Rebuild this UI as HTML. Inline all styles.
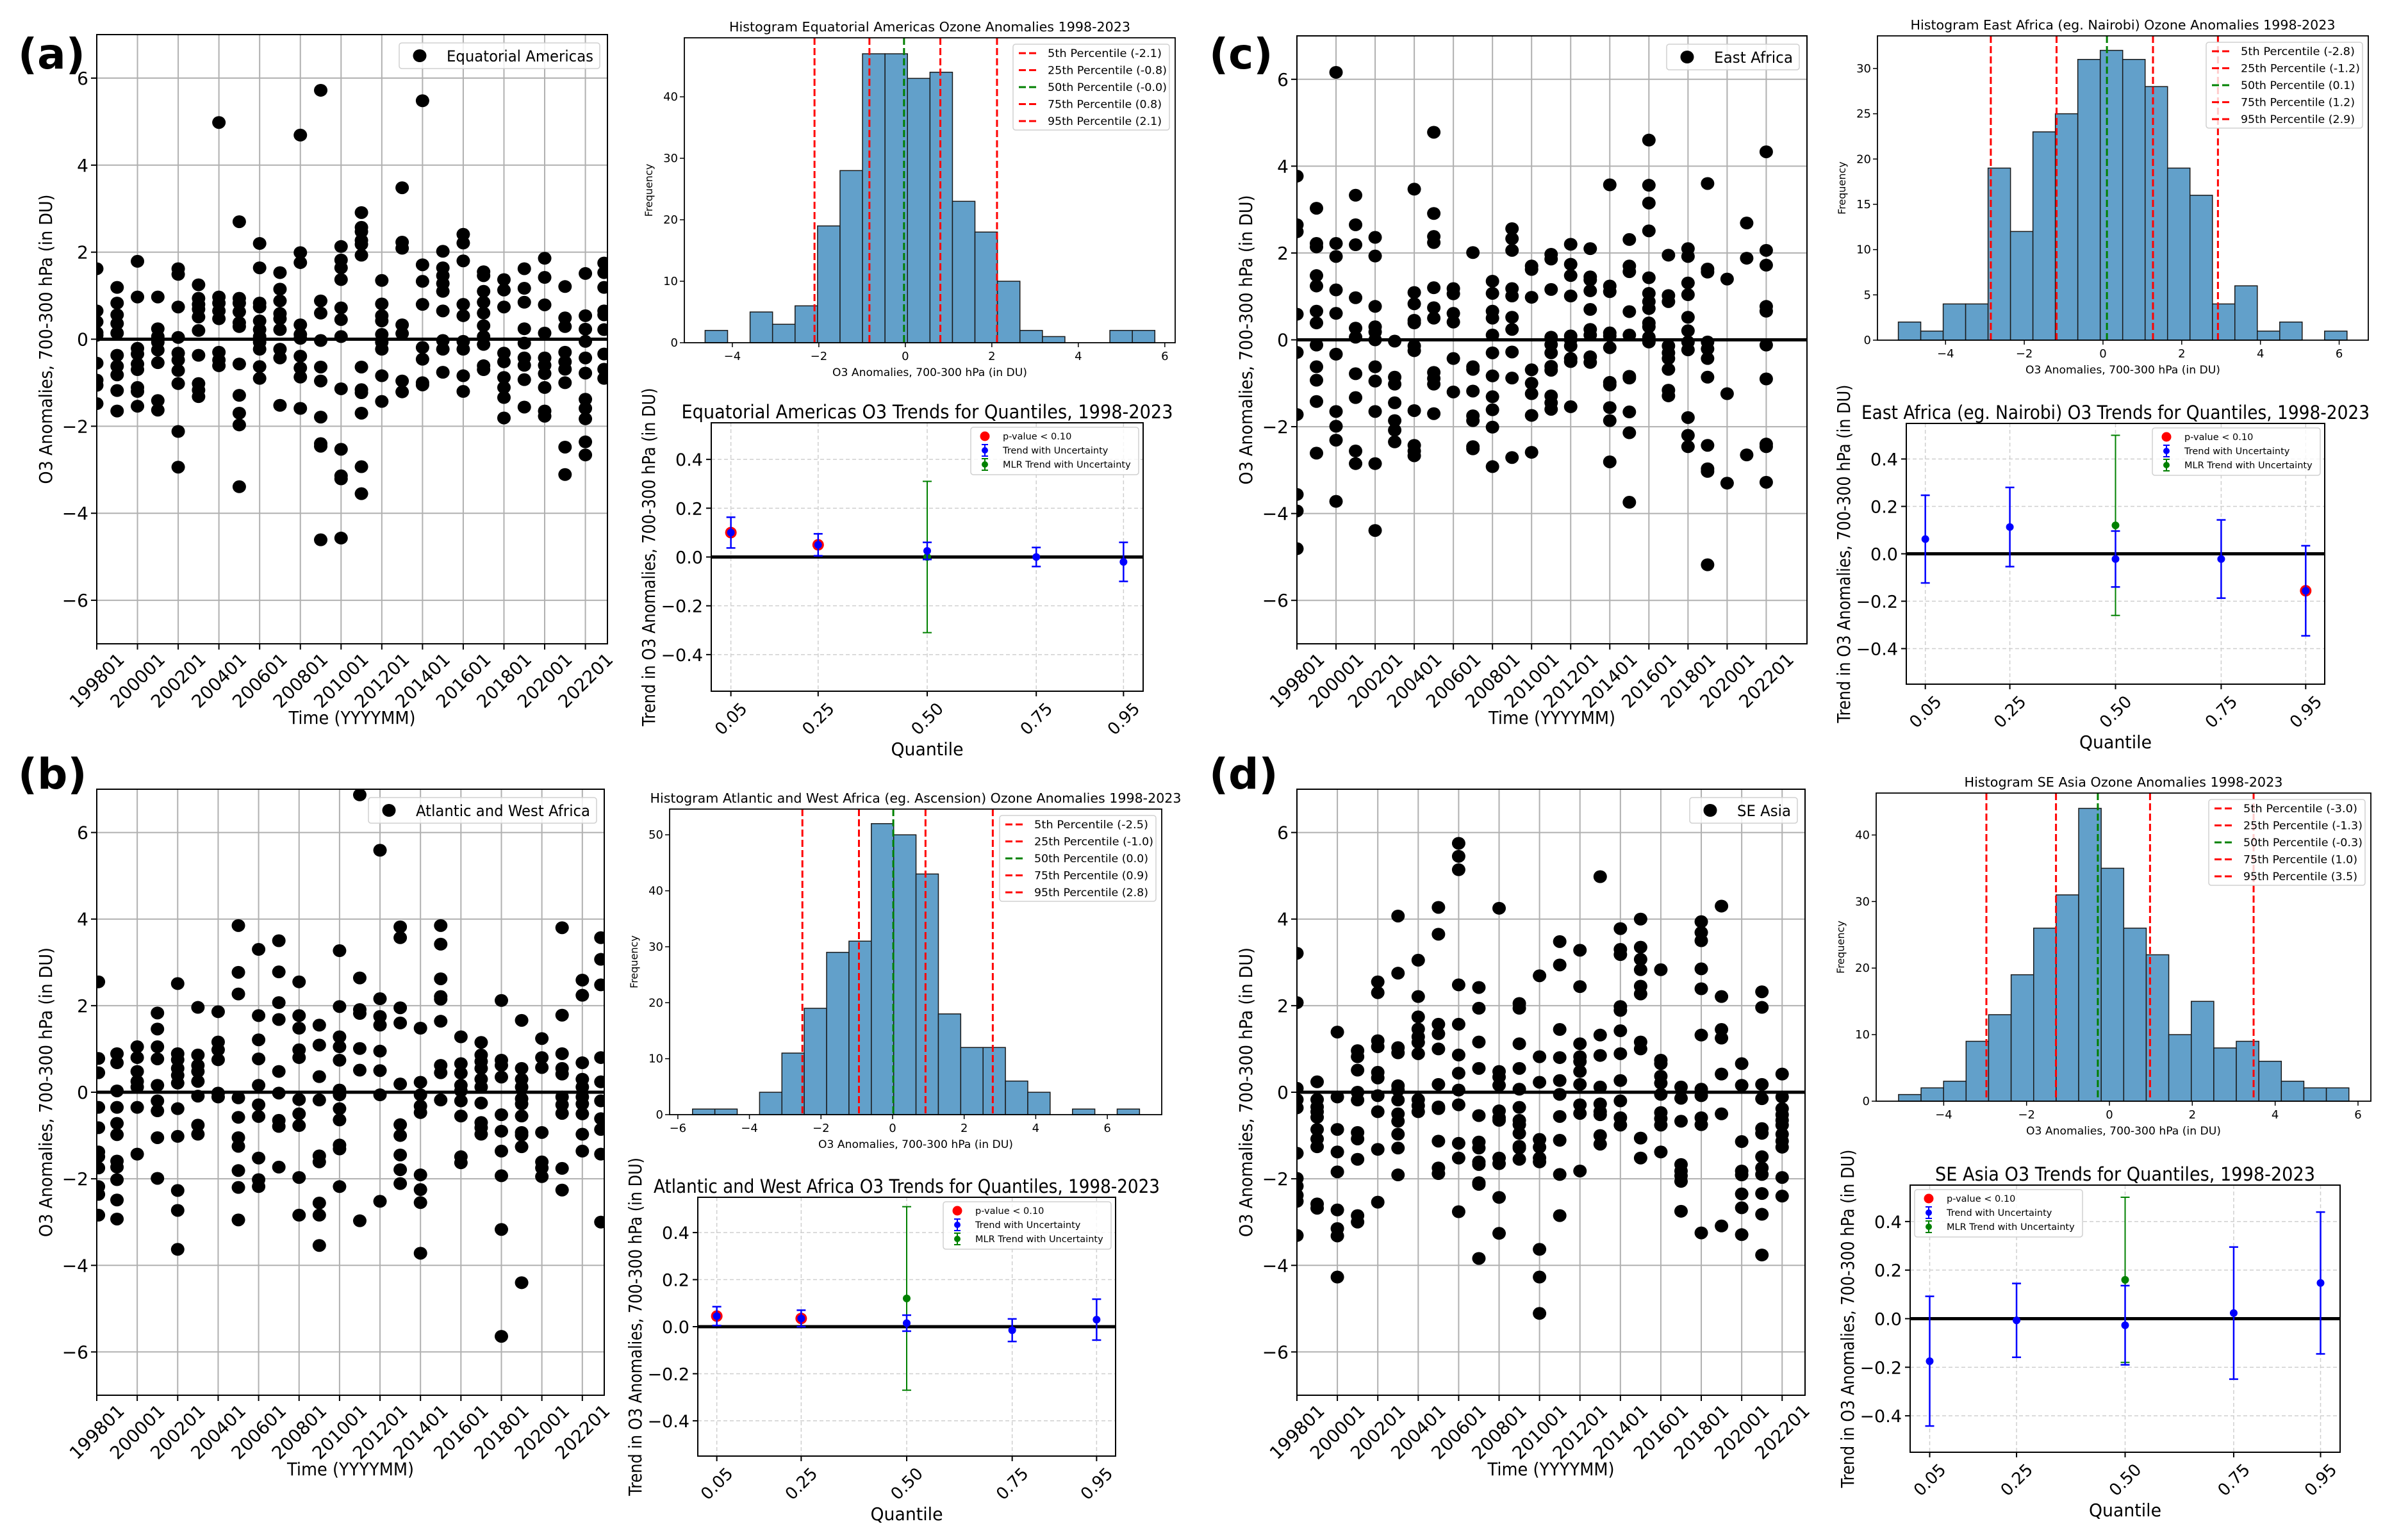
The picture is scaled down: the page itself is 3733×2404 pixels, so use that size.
<!DOCTYPE html>
<html><head><meta charset="utf-8"><title>O3 anomaly figure</title>
<style>html,body{margin:0;padding:0;background:#fff}svg{display:block}text{font-family:"DejaVu Sans","Liberation Sans",sans-serif}</style>
</head><body>
<svg id="fig" xmlns="http://www.w3.org/2000/svg" width="3733" height="2404" viewBox="0 0 3733 2404">
<rect x="0" y="0" width="3733" height="2404" fill="#fff"/>
<g id="panelA"></g>
<g id="panelB"></g>
<g id="panelC"></g>
<g id="panelD"></g>
</svg>
<script>
// ---------- DATA ----------
const monthsA=[0,12,24,36,48,60,72,84,96,108,120,132,144,156,168,180,192,204,216,228,240,252,264,276,288,299];
const anomA=[
[1.62,0.65,0.40,0.15,0.09,-0.55,-0.94,-1.06,-1.48],
[1.19,0.83,0.56,0.36,0.14,-0.37,-0.62,-0.82,-1.18,-1.65],
[1.79,0.97,-0.21,-0.34,-0.57,-0.70,-1.11,-1.20,-1.54],
[0.97,0.24,0.06,-0.07,-0.25,-0.54,-1.41,-1.63],
[1.62,1.49,0.74,0.04,-0.32,-0.48,-0.72,-1.02,-2.12,-2.94],
[1.25,0.94,0.80,0.69,0.51,0.20,-0.37,-1.02,-1.17,-1.32],
[4.98,0.97,0.83,0.65,0.47,-0.30,-0.48,-0.61],
[2.70,0.94,0.83,0.63,0.38,0.29,-0.57,-1.29,-1.70,-1.97,-3.39],
[2.20,1.64,0.83,0.74,0.42,0.22,0.06,-0.07,-0.23,-0.63,-0.90],
[1.53,1.15,0.88,0.59,0.47,0.22,-0.23,-0.43,-1.52],
[4.69,1.99,1.76,0.33,0.11,0.02,-0.39,-0.66,-0.87,-1.59],
[5.72,0.88,0.60,-0.03,-0.64,-0.96,-1.79,-2.40,-2.46,-4.61],
[2.13,1.82,1.64,1.37,0.72,0.45,0.06,-1.14,-2.53,-3.14,-3.21,-4.57],
[2.91,2.57,2.47,2.27,2.18,1.93,-0.64,-1.16,-1.23,-1.70,-2.93,-3.55],
[1.35,0.81,0.54,0.42,0.11,-0.07,-0.23,-0.84,-1.43],
[3.48,2.23,2.09,0.33,0.13,-0.96,-1.21],
[5.48,1.71,1.33,0.80,-0.19,-0.46,-1.00,-1.05],
[2.02,1.64,1.46,1.28,1.10,0.65,-0.03,-0.23,-0.76],
[2.41,2.21,1.80,0.80,0.54,-0.05,-0.23,-0.84,-1.20],
[1.55,1.46,1.10,0.85,0.60,0.31,0.06,-0.12,-0.61,-0.70],
[1.37,1.13,0.74,-0.32,-0.52,-0.88,-1.11,-1.34,-1.81],
[1.62,1.17,0.85,0.24,-0.09,-0.43,-0.60,-0.93,-1.56],
[1.86,1.42,0.79,0.14,-0.43,-0.60,-0.79,-1.11,-1.65,-1.77],
[1.21,0.49,0.29,-0.30,-0.52,-0.69,-1.00,-2.48,-3.11],
[1.51,0.54,0.23,-0.05,-0.43,-0.78,-1.38,-1.59,-1.83,-2.36,-2.66],
[1.75,1.53,1.19,0.65,0.56,0.22,-0.34,-0.69,-0.90]];
const monthsB=[1,12,24,36,48,60,72,84,96,108,120,132,144,156,168,180,192,204,216,228,240,252,264,276,288,299];
const anomB=[
[2.55,0.78,0.45,-0.35,-0.82,-1.38,-1.49,-1.75,-2.18,-2.36,-2.84],
[0.89,0.68,0.03,-0.35,-0.72,-0.98,-1.59,-1.73,-2.02,-2.49,-2.93],
[1.05,0.80,0.48,0.25,0.12,-0.35,-1.43],
[1.83,1.46,1.05,0.77,0.16,-0.20,-0.43,-1.05,-1.99],
[2.51,0.89,0.75,0.55,0.39,0.21,-0.38,-1.02,-2.27,-2.73,-3.63],
[1.96,0.86,0.62,0.48,0.25,-0.09,-0.76,-0.97],
[1.86,1.16,0.98,0.75,-0.02,-0.11],
[3.85,2.77,2.27,-0.13,-0.58,-1.05,-1.25,-1.81,-2.20,-2.95],
[3.30,1.77,1.21,0.77,0.16,-0.29,-0.56,-1.52,-2.02,-2.18],
[3.50,2.78,2.07,1.68,0.48,-0.02,-0.65,-0.79,-1.73],
[2.55,1.77,1.48,0.98,0.80,-0.17,-0.50,-0.77,-1.97,-2.84],
[1.55,1.09,0.36,-0.18,-1.47,-1.61,-2.56,-2.84,-3.54],
[3.27,1.98,1.28,1.05,0.74,0.05,-0.06,-0.38,-0.64,-1.22,-1.31,-2.18],
[6.87,2.64,1.91,1.82,1.01,0.51,-2.97],
[5.59,2.16,1.75,1.55,0.95,0.50,-0.06,-2.52],
[3.82,3.57,1.95,1.60,0.19,-0.75,-1.00,-1.45,-1.79,-2.11],
[1.48,0.23,-0.06,-0.32,-0.47,-1.91,-2.25,-2.55,-3.72],
[3.85,3.42,2.62,2.21,2.15,1.64,0.62,0.45,-0.18],
[1.28,0.66,0.44,0.16,0.03,-0.20,-0.55,-1.49,-1.63],
[1.15,0.86,0.71,0.55,0.30,0.12,-0.25,-0.70,-0.82,-0.97],
[2.12,0.74,0.62,0.35,-0.52,-0.90,-1.36,-1.93,-3.17,-5.64],
[1.66,0.55,0.30,0.12,-0.15,-0.27,-0.55,-0.93,-0.99,-1.26,-4.40],
[1.24,0.80,0.57,-0.93,-1.61,-1.75,-1.95],
[3.80,1.78,0.89,0.55,0.42,-0.11,-0.29,-0.49,-1.76,-2.26],
[2.59,2.24,0.68,0.30,0.12,-0.11,-0.27,-0.50,-0.97,-1.36],
[3.57,3.07,2.48,0.80,0.24,-0.20,-0.61,-0.86,-1.43,-3.00]];
const monthsC=[0,12,24,36,48,60,72,84,96,108,120,132,144,156,168,180,192,204,216,228,240,252,264,276,288];
const anomC=[
[3.77,2.65,2.49,0.59,-0.29,-1.72,-3.56,-3.94,-4.81],
[3.03,2.22,2.14,1.48,1.24,0.66,0.39,-0.12,-0.62,-0.93,-1.42,-2.61],
[6.16,2.22,1.92,1.15,0.61,-0.33,-1.65,-1.99,-2.31,-3.72],
[3.33,2.65,2.19,0.97,0.27,0.06,-0.78,-1.33,-2.56,-2.85],
[2.36,1.93,0.77,0.30,0.18,0.00,-0.62,-0.95,-1.65,-2.85,-4.39],
[-0.03,-0.86,-1.02,-1.45,-1.86,-2.08,-2.35],
[3.47,1.09,0.83,0.45,0.39,-0.14,-0.25,-1.63,-2.43,-2.56,-2.67],
[4.78,2.91,2.38,2.24,1.20,0.74,0.50,-0.75,-0.89,-1.02,-1.70],
[1.18,1.06,0.61,0.41,-0.43,-1.20],
[2.01,-0.62,-0.68,-1.18,-1.75,-1.86,-2.46,-2.51],
[1.35,1.07,0.66,0.50,0.11,-0.30,-0.83,-1.31,-1.61,-2.01,-2.92],
[2.56,2.33,2.06,1.18,1.01,0.52,0.24,-0.28,-0.88,-2.71],
[1.70,1.62,0.98,-0.69,-1.00,-1.24,-1.74,-2.59],
[1.97,1.86,1.16,0.06,-0.11,-0.30,-0.61,-0.70,-1.29,-1.45,-1.60],
[2.20,1.74,1.48,1.01,0.09,0.00,-0.14,-0.43,-0.50,-1.54],
[2.10,1.45,1.38,1.13,0.70,0.24,0.11,-0.39,-0.52],
[3.57,1.24,1.11,0.16,0.09,-0.18,-0.98,-1.04,-1.56,-1.86,-2.81],
[2.31,1.70,1.57,0.65,0.11,-0.84,-0.88,-1.66,-2.14,-3.74],
[4.60,3.56,3.15,2.51,1.43,1.07,0.88,0.72,0.39,0.30,0.06,-0.05],
[1.95,1.02,0.88,-0.14,-0.30,-0.43,-0.68,-1.16,-1.29],
[2.10,1.92,1.31,1.04,0.52,0.21,-0.05,-0.23,-1.79,-2.20,-2.46],
[3.60,1.63,1.56,-0.05,-0.21,-0.43,-0.86,-2.43,-2.97,-3.03,-5.18],
[1.40,-1.24,-3.30],
[2.69,1.88,-2.65],
[4.33,2.06,1.72,0.77,0.66,-0.12,-0.90,-2.40,-2.46,-3.28]];
const monthsD=[0,12,24,36,48,60,72,84,96,108,120,132,144,156,168,180,192,204,216,228,240,252,264,276,288];
const anomD=[
[3.21,2.07,0.09,-0.17,-0.36,-1.41,-1.99,-2.17,-2.38,-2.52,-3.31],
[0.24,-0.17,-0.34,-0.45,-0.58,-0.86,-1.08,-1.26,-2.58,-2.68],
[1.39,-0.11,-0.86,-1.38,-1.84,-2.72,-3.15,-3.32,-4.27],
[0.96,0.82,0.51,0.00,-0.18,-0.93,-1.08,-1.55,-2.85,-3.00],
[2.55,2.30,1.19,1.05,0.46,0.33,-0.08,-0.45,-1.32,-2.54],
[4.07,2.75,1.03,0.91,0.15,0.05,-0.18,-0.50,-0.67,-0.97,-1.29,-1.91],
[3.05,2.21,1.74,1.46,1.28,1.15,0.89,-0.17,-0.31,-0.45],
[4.27,3.65,1.57,1.35,1.00,0.18,-0.34,-0.38,-1.13,-1.75,-1.88],
[5.75,5.45,5.14,2.48,1.57,0.86,0.44,0.05,-0.29,-1.18,-1.52,-2.76],
[2.42,1.94,1.16,0.55,-0.54,-1.15,-1.29,-1.61,-1.67,-2.09,-2.13,-3.84],
[4.25,0.48,0.35,0.16,-0.43,-0.59,-0.65,-1.52,-1.65,-2.43,-3.26],
[2.05,1.94,1.12,0.55,0.07,-0.35,-0.65,-0.75,-0.95,-1.25,-1.29,-1.55],
[2.69,0.82,0.23,-1.09,-1.27,-1.52,-1.61,-3.63,-4.27,-5.11],
[3.48,2.94,1.45,0.80,0.27,-0.05,-0.56,-1.11,-1.90,-2.85],
[3.28,2.44,1.12,0.82,0.71,0.48,0.18,-0.29,-0.49,-1.82],
[4.98,1.32,0.85,0.12,-0.27,-0.45,-0.52,-1.00,-1.20],
[3.78,3.30,3.18,1.98,1.89,1.42,0.89,0.27,-0.20,-0.59,-0.76],
[4.00,3.35,3.07,2.83,2.45,2.27,1.16,1.00,-1.06,-1.52],
[2.83,0.74,0.66,0.37,0.21,-0.05,-0.47,-0.61,-0.76,-1.38],
[0.12,-0.14,-0.67,-1.67,-1.82,-1.93,-2.06,-2.75],
[3.94,3.69,3.50,2.85,2.39,1.32,0.07,-0.08,-0.59,-0.75,-3.25],
[4.30,2.21,1.45,1.25,0.42,-0.50,-3.09],
[0.66,0.16,-1.14,-1.82,-1.91,-2.35,-2.67,-3.29],
[2.32,1.96,0.18,-0.15,-0.84,-0.95,-1.49,-1.75,-1.90,-2.34,-2.82,-3.76],
[0.42,-0.11,-0.38,-0.52,-0.65,-0.76,-0.97,-1.13,-1.27,-1.97,-2.40]];
const timeTickMonths=[0,24,48,72,96,120,144,168,192,216,240,264,288];
const timeTickLabels=['199801','200001','200201','200401','200601','200801','201001','201201','201401','201601','201801','202001','202201'];
const anomTicks=[-6,-4,-2,0,2,4,6];

// histograms
const histStartA=-4.63, histWidthA=0.52;
const histCountsA=[2,0,5,3,6,19,28,47,47,43,44,23,18,10,2,1,0,0,2,2];
const pctA=[-2.10,-0.83,-0.03,0.81,2.12];
const pctLabelA=['-2.1','-0.8','-0.0','0.8','2.1'];
const histStartB=-5.59, histWidthB=0.6245;
const histCountsB=[1,1,0,4,11,19,29,31,52,50,43,18,12,12,6,4,0,1,0,1];
const pctB=[-2.52,-0.94,0.02,0.92,2.80];
const pctLabelB=['-2.5','-1.0','0.0','0.9','2.8'];
const histStartC=-5.2, histWidthC=0.57;
const histCountsC=[2,1,4,4,19,12,23,25,31,32,31,28,19,16,4,6,1,2,0,1];
const pctC=[-2.85,-1.18,0.10,1.27,2.92];
const pctLabelC=['-2.8','-1.2','0.1','1.2','2.9'];
const histStartD=-5.09, histWidthD=0.5435;
const histCountsD=[1,2,3,9,13,19,26,31,44,35,26,22,10,15,8,9,6,3,2,2];
const pctD=[-2.97,-1.29,-0.28,0.98,3.48];
const pctLabelD=['-3.0','-1.3','-0.3','1.0','3.5'];
const pctNames=['5th','25th','50th','75th','95th'];

// trends
const quantiles=[0.05,0.25,0.50,0.75,0.95];
const quantileLabels=['0.05','0.25','0.50','0.75','0.95'];
const trendTicks=[-0.4,-0.2,0.0,0.2,0.4];
const trendA=[0.10,0.05,0.025,0.0,-0.02];
const trendErrA=[0.063,0.045,0.035,0.039,0.08];
const sigA=[1,1,0,0,0];
const mlrA=0.0, mlrErrA=0.31;
const trendB=[0.045,0.035,0.015,-0.015,0.03];
const trendErrB=[0.04,0.035,0.034,0.048,0.087];
const sigB=[1,1,0,0,0];
const mlrB=0.12, mlrErrB=0.39;
const trendC=[0.062,0.113,-0.022,-0.022,-0.156];
const trendErrC=[0.185,0.167,0.118,0.165,0.19];
const sigC=[0,0,0,0,1];
const mlrC=0.12, mlrErrC=0.38;
const trendD=[-0.175,-0.007,-0.027,0.023,0.147];
const trendErrD=[0.267,0.152,0.163,0.272,0.292];
const sigD=[0,0,0,0,0];
const mlrD=0.16, mlrErrD=0.34;

// ---------- DRAWING ----------
const NS='http://www.w3.org/2000/svg';
function mk(tag,attrs,parent){const e=document.createElementNS(NS,tag);for(const k in attrs)e.setAttribute(k,attrs[k]);parent.appendChild(e);return e;}
function txt(parent,x,y,s,size,anchor,extra){const t=mk('text',Object.assign({x:x,y:y,'font-size':size,'text-anchor':anchor||'start',fill:'#000'},extra||{}),parent);t.textContent=s;return t;}
const minus=s=>String(s).replace('-','\u2212');
let clipId=0;

function drawScatter(root,box,xmax,months,vals,legText,legTL,pname){
  const g=mk('g',{},root);
  
  
  const W=box.R-box.L,H=box.B-box.T;
  const xs=m=>box.L+m/xmax*W, ys=v=>box.T+(7-v)/14*H;
  timeTickMonths.forEach((m,i)=>{
    const l=mk('line',{x1:xs(m),x2:xs(m),y1:box.T,y2:box.B,stroke:'#b0b0b0','stroke-width':2},g);
    
    
    const tk=mk('line',{x1:xs(m),x2:xs(m),y1:box.B,y2:box.B+9,stroke:'#000','stroke-width':2},g);
    
    
    const cx=xs(m),cy=box.B+57;
    const t=txt(g,cx,cy+10,timeTickLabels[i],28,'middle',{transform:`rotate(-45 ${cx} ${cy})`});
    
    
  });
  anomTicks.forEach(v=>{
    const l=mk('line',{x1:box.L,x2:box.R,y1:ys(v),y2:ys(v),stroke:'#b0b0b0','stroke-width':2},g);
    
    
    const tk=mk('line',{x1:box.L-9,x2:box.L,y1:ys(v),y2:ys(v),stroke:'#000','stroke-width':2},g);
    
    
    const t=txt(g,box.L-13,ys(v)+10,minus(v),28,'end');
    
    
  });
  const id='clip'+(clipId++);
  const cp=mk('clipPath',{id:id},g);
  mk('rect',{x:box.L,y:box.T,width:W,height:H},cp);
  const z=mk('line',{x1:box.L,x2:box.R,y1:ys(0),y2:ys(0),stroke:'#000','stroke-width':5},g);
  
  
  const pg=mk('g',{'clip-path':`url(#${id})`},g);
  
  
  months.forEach((m,i)=>{
    vals[i].forEach(v=>{
      const c=mk('ellipse',{cx:xs(m),cy:ys(v),rx:10.5,ry:10,fill:'#000'},pg);
      
      
    });
  });
  const fr=mk('rect',{x:box.L,y:box.T,width:W,height:H,fill:'none',stroke:'#000','stroke-width':2},g);
  
  
  const yl=txt(g,box.L-70,(box.T+box.B)/2,'O3 Anomalies, 700-300 hPa (in DU)',28,'middle',{transform:`rotate(-90 ${box.L-70} ${(box.T+box.B)/2})`,textLength:452,lengthAdjust:'spacingAndGlyphs'});
  
  
  const xl=txt(g,(box.L+box.R)/2,box.B+125,'Time (YYYYMM)',28,'middle',{textLength:198,lengthAdjust:'spacingAndGlyphs'});
  
  
  const lg=mk('g',{},g);
  
  
  const bw=legText.w+84, bx=box.R-12-bw, by=box.T+13;
  mk('rect',{x:bx,y:by,width:bw,height:40,rx:4,fill:'#fff','fill-opacity':0.8,stroke:'#d0d0d0','stroke-width':1.5},lg);
  const lm=mk('ellipse',{cx:bx+32,cy:by+20,rx:10.5,ry:10,fill:'#000'},lg);
  
  
  const lt=txt(lg,bx+74,by+29,legText.s,24,'start',{textLength:legText.w,lengthAdjust:'spacingAndGlyphs'});
  
  
  const pl=txt(root,legTL.x,legTL.y,legTL.s,66,'start',{'font-weight':'bold','font-family':'Liberation Sans, sans-serif'});
  
  
}

function drawHist(root,box,xr,ymax,start,width,counts,pcts,pctLabels,xticks,yticks,title,titleW,pname){
  const g=mk('g',{},root);
  
  
  const W=box.R-box.L,H=box.B-box.T;
  const xs=v=>box.L+(v-xr[0])/(xr[1]-xr[0])*W, ys=c=>box.B-c/ymax*H;
  counts.forEach((c,i)=>{
    if(c<=0)return;
    const x0=xs(start+i*width),x1=xs(start+(i+1)*width);
    const r=mk('rect',{x:x0,y:ys(c),width:x1-x0,height:box.B-ys(c),fill:'#62a0ca',stroke:'#1a1a1a','stroke-width':1.5},g);
    
    
  });
  pcts.forEach((p,i)=>{
    const l=mk('line',{x1:xs(p),x2:xs(p),y1:box.T,y2:box.B,stroke:i==2?'#008000':'#ff0000','stroke-width':3,'stroke-dasharray':'11 5'},g);
    
    
  });
  const fr=mk('rect',{x:box.L,y:box.T,width:W,height:H,fill:'none',stroke:'#000','stroke-width':1.8},g);
  
  
  xticks.forEach(v=>{
    const tk=mk('line',{x1:xs(v),x2:xs(v),y1:box.B,y2:box.B+7,stroke:'#000','stroke-width':1.5},g);
    
    
    const t=txt(g,xs(v),box.B+27,minus(v),18,'middle');
    
    
  });
  yticks.forEach(v=>{
    const tk=mk('line',{x1:box.L-7,x2:box.L,y1:ys(v),y2:ys(v),stroke:'#000','stroke-width':1.5},g);
    
    
    const t=txt(g,box.L-10,ys(v)+6,String(v),18,'end');
    
    
  });
  const tt=txt(g,(box.L+box.R)/2,box.T-10,title,20,'middle',{textLength:titleW,lengthAdjust:'spacingAndGlyphs'});
  
  
  const xl=txt(g,(box.L+box.R)/2,box.B+52,'O3 Anomalies, 700-300 hPa (in DU)',17,'middle',{textLength:304,lengthAdjust:'spacingAndGlyphs'});
  
  
  const cy=(box.T+box.B)/2;
  const yl=txt(g,box.L-50,cy,'Frequency',16,'middle',{transform:`rotate(-90 ${box.L-50} ${cy})`});
  
  
  const lg=mk('g',{},g);
  
  
  const bx=box.R-253,by=box.T+10;
  mk('rect',{x:bx,y:by,width:244,height:134,rx:4,fill:'#fff','fill-opacity':0.8,stroke:'#d0d0d0','stroke-width':1.5},lg);
  pctNames.forEach((n,i)=>{
    const y=by+14+i*26.5;
    const l=mk('line',{x1:bx+9,x2:bx+39,y1:y,y2:y,stroke:i==2?'#008000':'#ff0000','stroke-width':3,'stroke-dasharray':'11 5'},lg);
    
    
    const s=`${n} Percentile (${pctLabels[i]})`;
    const t=txt(lg,bx+54,y+6,s,17,'start',{textLength:Math.round(178*s.length/21),lengthAdjust:'spacingAndGlyphs'});
    
    
  });
}

function drawTrend(root,box,vals,errs,sig,mlr,mlrErr,title,titleW,legLeft,pname){
  const g=mk('g',{},root);
  
  
  const W=box.R-box.L,H=box.B-box.T;
  const xs=q=>box.L+(q-0.005)/0.99*W, ys=v=>box.T+(0.55-v)/1.1*H;
  quantiles.forEach((q,i)=>{
    const l=mk('line',{x1:xs(q),x2:xs(q),y1:box.T,y2:box.B,stroke:'#cfcfcf','stroke-width':1.5,'stroke-dasharray':'6 4'},g);
    
    
    const tk=mk('line',{x1:xs(q),x2:xs(q),y1:box.B,y2:box.B+8,stroke:'#000','stroke-width':2},g);
    
    
    const cx=xs(q),cy=box.B+43;
    const t=txt(g,cx,cy+9,quantileLabels[i],26,'middle',{transform:`rotate(-45 ${cx} ${cy})`});
    
    
  });
  trendTicks.forEach(v=>{
    const l=mk('line',{x1:box.L,x2:box.R,y1:ys(v),y2:ys(v),stroke:'#cfcfcf','stroke-width':1.5,'stroke-dasharray':'6 4'},g);
    
    
    const tk=mk('line',{x1:box.L-8,x2:box.L,y1:ys(v),y2:ys(v),stroke:'#000','stroke-width':2},g);
    
    
    const t=txt(g,box.L-13,ys(v)+10,minus(v.toFixed(1)),27,'end');
    
    
  });
  const z=mk('line',{x1:box.L,x2:box.R,y1:ys(0),y2:ys(0),stroke:'#000','stroke-width':5},g);
  
  
  function errbar(q,v,e,col,w,name){
    const eg=mk('g',{},g);
    
    
    const x=xs(q);
    mk('line',{x1:x,x2:x,y1:ys(v+e),y2:ys(v-e),stroke:col,'stroke-width':w},eg);
    mk('line',{x1:x-7,x2:x+7,y1:ys(v+e),y2:ys(v+e),stroke:col,'stroke-width':w},eg);
    mk('line',{x1:x-7,x2:x+7,y1:ys(v-e),y2:ys(v-e),stroke:col,'stroke-width':w},eg);
    mk('circle',{cx:x,cy:ys(v),r:6,fill:col},eg);
  }
  quantiles.forEach((q,i)=>{
    if(sig[i]){
      const r=mk('circle',{cx:xs(q),cy:ys(vals[i]),r:9,fill:'#ff0000'},g);
      
      
    }
    if(i==2) errbar(0.5,mlr,mlrErr,'#008000',2,'mlr-trend-errorbar');
    errbar(q,vals[i],errs[i],'#0000ff',2.5,'trend-errorbar');
  });
  const fr=mk('rect',{x:box.L,y:box.T,width:W,height:H,fill:'none',stroke:'#000','stroke-width':2},g);
  
  
  const tt=txt(g,(box.L+box.R)/2,box.T-7,title,29,'middle',{textLength:titleW,lengthAdjust:'spacingAndGlyphs'});
  
  
  const xl=txt(g,(box.L+box.R)/2,box.B+100,'Quantile',28,'middle',{textLength:113,lengthAdjust:'spacingAndGlyphs'});
  
  
  const cy=(box.T+box.B)/2,lx=box.L-97;
  const yl=txt(g,lx,cy+9,'Trend in O3 Anomalies, 700-300 hPa (in DU)',28,'middle',{transform:`rotate(-90 ${lx} ${cy})`,textLength:528,lengthAdjust:'spacingAndGlyphs'});
  
  
  const lg=mk('g',{},g);
  
  
  const bw=262, bx=legLeft?box.L+7:box.R-7-bw, by=box.T+7;
  mk('rect',{x:bx,y:by,width:bw,height:74,rx:4,fill:'#fff','fill-opacity':0.8,stroke:'#d0d0d0','stroke-width':1.5},lg);
  const rows=[['p-value < 0.10','#ff0000',false],['Trend with Uncertainty','#0000ff',true],['MLR Trend with Uncertainty','#008000',true]];
  rows.forEach((r,i)=>{
    const y=by+14+i*22;
    if(r[2]){
      mk('line',{x1:bx+22,x2:bx+22,y1:y-9,y2:y+9,stroke:r[1],'stroke-width':2},lg);
      mk('line',{x1:bx+17,x2:bx+27,y1:y-9,y2:y-9,stroke:r[1],'stroke-width':2},lg);
      mk('line',{x1:bx+17,x2:bx+27,y1:y+9,y2:y+9,stroke:r[1],'stroke-width':2},lg);
      mk('circle',{cx:bx+22,cy:y,r:5,fill:r[1]},lg);
    } else mk('circle',{cx:bx+22,cy:y,r:7.5,fill:r[1]},lg);
    const t=txt(lg,bx+50,y+5,r[0],14.5,'start');
    
    
  });
}

const pA=document.getElementById('panelA'),pB=document.getElementById('panelB'),pC=document.getElementById('panelC'),pD=document.getElementById('panelD');
drawScatter(pA,{L:151,R:948,T:54,B:1005},301,monthsA,anomA,{s:'Equatorial Americas',w:229},{x:28,y:107,s:'(a)'},'a');
drawHist(pA,{L:1068,R:1834,T:59,B:535},[-5.11,6.24],49.6,histStartA,histWidthA,histCountsA,pctA,pctLabelA,[-4,-2,0,2,4,6],[0,10,20,30,40],'Histogram Equatorial Americas Ozone Anomalies 1998-2023',626,'a');
drawTrend(pA,{L:1110,R:1784,T:660,B:1079},trendA,trendErrA,sigA,mlrA,mlrErrA,'Equatorial Americas O3 Trends for Quantiles, 1998-2023',767,false,'a');

drawScatter(pB,{L:151,R:943,T:1232,B:2178},301,monthsB,anomB,{s:'Atlantic and West Africa',w:272},{x:28,y:1231,s:'(b)'},'b');
drawHist(pB,{L:1045,R:1813,T:1263,B:1740},[-6.23,7.52],54.6,histStartB,histWidthB,histCountsB,pctB,pctLabelB,[-6,-4,-2,0,2,4,6],[0,10,20,30,40,50],'Histogram Atlantic and West Africa (eg. Ascension) Ozone Anomalies 1998-2023',829,'b');
drawTrend(pB,{L:1089,R:1741,T:1869,B:2273},trendB,trendErrB,sigB,mlrB,mlrErrB,'Atlantic and West Africa O3 Trends for Quantiles, 1998-2023',790,false,'b');

drawScatter(pC,{L:2024,R:2820,T:56,B:1005},313,monthsC,anomC,{s:'East Africa',w:123},{x:1887,y:107,s:'(c)'},'c');
drawHist(pC,{L:2930,R:3696,T:56,B:531},[-5.73,6.74],33.6,histStartC,histWidthC,histCountsC,pctC,pctLabelC,[-4,-2,0,2,4,6],[0,5,10,15,20,25,30],'Histogram East Africa (eg. Nairobi) Ozone Anomalies 1998-2023',663,'c');
drawTrend(pC,{L:2975,R:3628,T:661,B:1068},trendC,trendErrC,sigC,mlrC,mlrErrC,'East Africa (eg. Nairobi) O3 Trends for Quantiles, 1998-2023',793,false,'c');

drawScatter(pD,{L:2024,R:2817,T:1232,B:2178},301.6,monthsD,anomD,{s:'SE Asia',w:84},{x:1887,y:1231,s:'(d)'},'d');
drawHist(pD,{L:2928,R:3700,T:1238,B:1719},[-5.63,6.31],46.3,histStartD,histWidthD,histCountsD,pctD,pctLabelD,[-4,-2,0,2,4,6],[0,10,20,30,40],'Histogram SE Asia Ozone Anomalies 1998-2023',497,'d');
drawTrend(pD,{L:2981,R:3652,T:1850,B:2267},trendD,trendErrD,sigD,mlrD,mlrErrD,'SE Asia O3 Trends for Quantiles, 1998-2023',593,true,'d');
</script>
</body></html>
